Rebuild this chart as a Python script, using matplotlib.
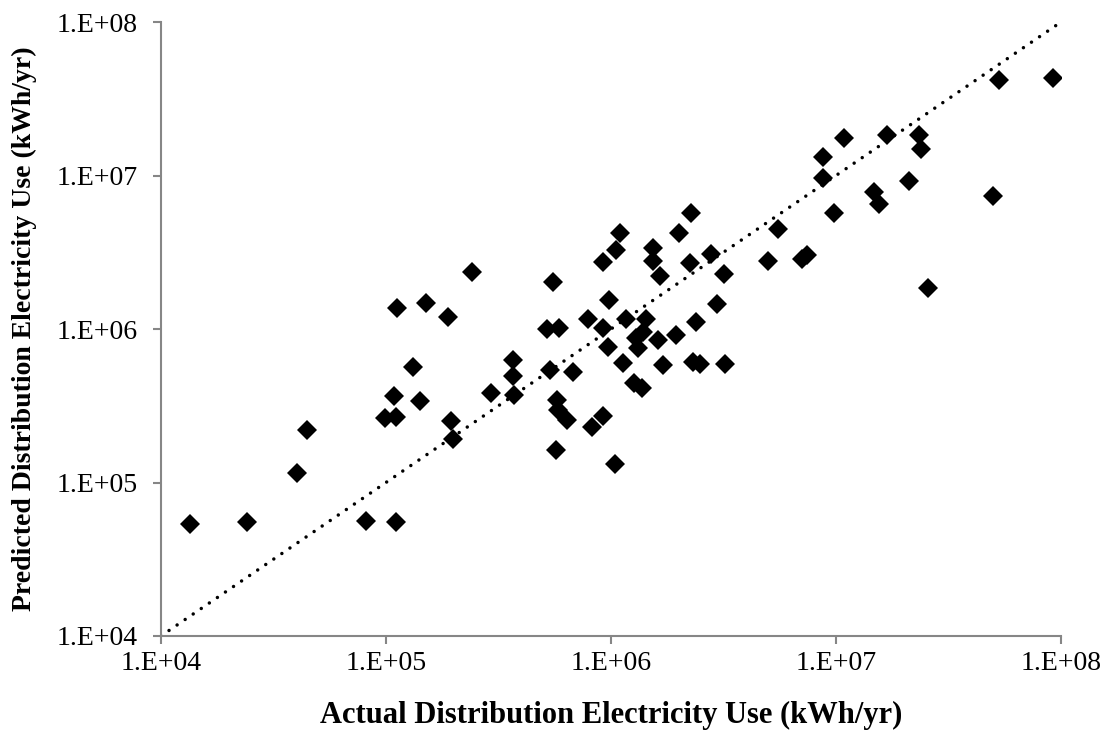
import matplotlib.pyplot as plt
import numpy as np

plt.rcParams['font.family'] = ['Liberation Serif', 'DejaVu Serif']

# actual vs predicted distribution electricity use (kWh/yr)
actual = [1.34e4, 2.40e4, 4.02e4, 4.45e4, 8.15e4, 1.11e5, 1.12e5, 1.50e5, 1.88e5, 2.40e5,
          1.32e5, 1.09e5, 1.42e5, 9.9e4, 1.11e5, 1.94e5, 1.99e5, 2.92e5, 3.68e5, 3.68e5,
          3.72e5, 5.36e5, 6.79e5, 5.74e5, 5.83e5, 6.35e5, 8.24e5, 9.21e5, 5.70e5, 1.045e6,
          5.51e5, 5.18e5, 5.87e5, 7.93e5, 9.25e5, 9.82e5, 1.17e6, 1.43e6, 1.39e6, 1.29e6,
          9.72e5, 1.32e6, 1.62e6, 1.94e6, 1.13e6, 1.71e6, 2.31e6, 2.49e6, 3.21e6, 1.26e6,
          1.37e6, 2.39e6, 2.95e6, 9.25e5, 1.05e6, 1.10e6, 1.53e6, 1.54e6, 1.66e6, 2.01e6,
          2.26e6, 2.24e6, 2.78e6, 3.19e6, 4.97e6, 5.52e6, 7.05e6, 7.41e6, 5.32e7, 9.18e7,
          1.09e7, 1.69e7, 2.34e7, 2.39e7, 8.79e6, 8.79e6, 2.12e7, 1.47e7, 1.56e7, 5.00e7,
          9.82e6, 2.57e7]
predicted = [5.37e4, 5.56e4, 1.15e5, 2.20e5, 5.64e4, 5.51e4, 1.38e6, 1.47e6, 1.20e6, 2.37e6,
             5.68e5, 3.66e5, 3.41e5, 2.62e5, 2.66e5, 2.53e5, 1.93e5, 3.83e5, 6.28e5, 4.96e5,
             3.72e5, 5.41e5, 5.27e5, 3.45e5, 2.97e5, 2.55e5, 2.30e5, 2.71e5, 1.63e5, 1.32e5,
             2.01e6, 9.96e5, 1.01e6, 1.17e6, 1.01e6, 1.55e6, 1.17e6, 1.16e6, 9.55e5, 8.73e5,
             7.67e5, 7.48e5, 8.47e5, 9.14e5, 5.98e5, 5.82e5, 6.12e5, 5.89e5, 5.89e5, 4.43e5,
             4.11e5, 1.11e6, 1.45e6, 2.74e6, 3.27e6, 4.24e6, 3.36e6, 2.77e6, 2.21e6, 4.20e6,
             5.68e6, 2.70e6, 3.08e6, 2.28e6, 2.76e6, 4.47e6, 2.84e6, 3.03e6, 4.19e7, 4.34e7,
             1.75e7, 1.84e7, 1.85e7, 1.48e7, 1.33e7, 9.68e6, 9.25e6, 7.83e6, 6.49e6, 7.35e6,
             5.68e6, 1.86e6]

# 1:1 reference line
line_x = [1e4, 1e8]
line_y = [1e4, 1e8]

ticks = [1e4, 1e5, 1e6, 1e7, 1e8]
tick_labels = ['1.E+04', '1.E+05', '1.E+06', '1.E+07', '1.E+08']

fig = plt.figure(figsize=(11.07, 7.36), dpi=100)
ax = fig.add_axes([0.1454, 0.1359, 0.8130, 0.8341])

ax.plot(line_x, line_y, color='black', lw=2.5, linestyle=(0, (0.01, 2.8)),
        dash_capstyle='round', zorder=2)
ax.plot(actual, predicted, linestyle='none', marker='D', markersize=10.5,
        color='black', markeredgewidth=0, zorder=3)

ax.set_xscale('log')
ax.set_yscale('log')
ax.set_xlim(1e4, 1e8)
ax.set_ylim(1e4, 1e8)
ax.set_xticks(ticks)
ax.set_xticklabels(tick_labels)
ax.set_yticks(ticks)
ax.set_yticklabels(tick_labels)
ax.minorticks_off()

for side in ['top', 'right']:
    ax.spines[side].set_visible(False)
for side in ['left', 'bottom']:
    ax.spines[side].set_color('#868686')
    ax.spines[side].set_linewidth(1.5)

ax.tick_params(axis='both', which='major', direction='out', length=6, width=1.5,
               color='#868686', labelsize=20)
ax.tick_params(axis='x', pad=5)
ax.tick_params(axis='y', pad=11)

ax.set_xlabel('Actual Distribution Electricity Use (kWh/yr)', fontsize=22,
              fontweight='bold', labelpad=18)
ax.set_ylabel('Predicted Distribution Electricity Use (kWh/yr)', fontsize=20,
              fontweight='bold', labelpad=14)

plt.savefig('out.png', dpi=100)
